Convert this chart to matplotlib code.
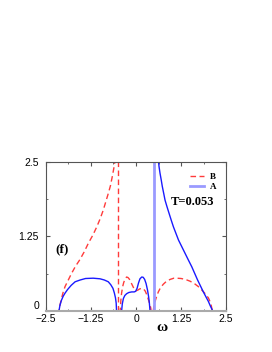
import matplotlib
matplotlib.use("Agg")
import matplotlib.pyplot as plt
from matplotlib.ticker import MultipleLocator

# B (red dashed) pieces
b_left_w = [-2.5, -2.14, -2.11, -2.08, -2.03, -1.97, -1.88, -1.79, -1.68, -1.56, -1.44, -1.32, -1.2, -1.09,
            -1.0, -0.91, -0.84, -0.77, -0.71, -0.66, -0.62, -0.58]
b_left_v = [0, 0, 0.1, 0.18, 0.3, 0.41, 0.52, 0.63, 0.75, 0.86, 0.99, 1.14, 1.27, 1.41,
            1.54, 1.69, 1.83, 1.97, 2.1, 2.25, 2.38, 2.53]
b_pole = -0.5
b_mid_w = [-0.5, -0.44, -0.42, -0.4, -0.37, -0.34, -0.3, -0.26, -0.22, -0.18, -0.14, -0.1, -0.06, -0.03,
           0.0, 0.05, 0.1, 0.16, 0.21, 0.26, 0.3, 0.34, 0.37, 0.39, 0.41, 0.42, 0.48]
b_mid_v = [0, 0, 0.18, 0.3, 0.41, 0.48, 0.54, 0.57, 0.56, 0.53, 0.48, 0.43, 0.38, 0.35,
           0.34, 0.35, 0.37, 0.38, 0.37, 0.33, 0.27, 0.2, 0.14, 0.1, 0.05, 0, 0]
b_right_w = [0.48, 0.5, 0.53, 0.57, 0.62, 0.68, 0.76, 0.85, 0.95, 1.05, 1.13, 1.25, 1.37, 1.5, 1.62, 1.73,
             1.83, 1.92, 2.01, 2.06, 2.09, 2.12, 2.5]
b_right_v = [0, 0.1, 0.16, 0.24, 0.32, 0.39, 0.45, 0.5, 0.53, 0.55, 0.55, 0.545, 0.53, 0.5, 0.46, 0.41,
             0.35, 0.29, 0.22, 0.15, 0.09, 0, 0]

# A (blue solid) pieces
a_left_w = [-2.5, -2.14, -2.11, -2.07, -2.02, -1.97, -1.9, -1.8, -1.69, -1.55, -1.4, -1.19, -1.0, -0.88,
            -0.77, -0.7, -0.64, -0.6, -0.57, -0.55, -0.54, -0.4]
a_left_v = [0, 0, 0.1, 0.18, 0.25, 0.3, 0.36, 0.43, 0.49, 0.52, 0.545, 0.55, 0.54, 0.52,
            0.49, 0.44, 0.38, 0.3, 0.22, 0.13, 0, 0]
a_mid_w = [-0.4, -0.38, -0.35, -0.31, -0.26, -0.2, -0.12, -0.05, -0.01, 0.03, 0.07, 0.11, 0.16, 0.2,
           0.24, 0.28, 0.32, 0.35, 0.37, 0.39, 0.48]
a_mid_v = [0, 0.12, 0.21, 0.26, 0.29, 0.31, 0.32, 0.32, 0.33, 0.38, 0.47, 0.54, 0.57, 0.565,
           0.53, 0.46, 0.35, 0.24, 0.14, 0, 0]
a_pole = 0.49
a_right_w = [0.61, 0.62, 0.64, 0.667, 0.7, 0.73, 0.77, 0.806, 0.86, 0.917, 0.98, 1.04, 1.11, 1.18, 1.27,
             1.36, 1.45, 1.55, 1.63, 1.71, 1.79, 1.87, 1.94, 2.01, 2.06, 2.1, 2.13, 2.5]
a_right_v = [2.6, 2.53, 2.42, 2.31, 2.2, 2.09, 1.97, 1.86, 1.75, 1.64, 1.52, 1.41, 1.3, 1.19, 1.08,
             0.97, 0.86, 0.74, 0.63, 0.52, 0.42, 0.32, 0.24, 0.16, 0.09, 0.04, 0, 0]

red = "#ff3b3b"
blue = "#1a1aff"
lightblue = "#9a9aff"

fig = plt.figure(figsize=(2.72, 3.52), dpi=100)
ax = fig.add_axes([0.169, 0.1165, 0.662, 0.4235])

dash = (0, (4, 2.5))
ax.plot(b_left_w, b_left_v, color=red, lw=1, ls=dash)
ax.plot([b_pole, b_pole], [0, 2.5], color=red, lw=1, ls=dash)
ax.plot(b_mid_w, b_mid_v, color=red, lw=1, ls=dash)
ax.plot(b_right_w, b_right_v, color=red, lw=1, ls=dash)

ax.plot(a_left_w, a_left_v, color=blue, lw=1)
ax.plot(a_mid_w, a_mid_v, color=blue, lw=1)
ax.plot([a_pole, a_pole], [0, 2.5], color=lightblue, lw=2)
ax.plot(a_right_w, a_right_v, color=blue, lw=1)

ax.set_xlim(-2.5, 2.5)
ax.set_ylim(0, 2.5)
ax.set_xticks([-2.5, -1.25, 0, 1.25, 2.5])
ax.set_xticklabels(["\u22122.5", "\u22121.25", "0", "1.25", "2.5"])
ax.set_yticks([0, 1.25, 2.5])
ax.set_yticklabels(["0", "1.25", "2.5"])
ax.xaxis.set_minor_locator(MultipleLocator(0.625))
ax.yaxis.set_minor_locator(MultipleLocator(0.625))
ax.tick_params(which="both", direction="in", top=True, right=True, colors="#555555",
               labelcolor="black", labelsize=7.5)
ax.tick_params(axis="x", pad=2)
ax.tick_params(axis="y", pad=5)
ax.tick_params(which="major", length=3)
ax.tick_params(which="minor", length=1.5)
for lab in ax.get_xticklabels() + ax.get_yticklabels():
    lab.set_family("Liberation Sans")
ax.get_yticklabels()[0].set_verticalalignment("bottom")
for sp in ax.spines.values():
    sp.set_color("#555555")
    sp.set_linewidth(0.8)
ax.spines["bottom"].set_color("#aaaaaa")
ax.spines["bottom"].set_linewidth(1.5)

ax.set_xlabel("\u03c9", family="Liberation Serif", fontweight="bold", fontsize=11)
ax.xaxis.set_label_coords(0.645, -0.065)

ax.text(-2.06, 1.03, "(f)", family="Liberation Serif", fontweight="bold", fontsize=9.5,
        ha="center", va="center")
ax.text(1.58, 1.83, "T=0.053", family="Liberation Serif", fontweight="bold", fontsize=9,
        ha="center", va="center")

hb, = ax.plot([], [], color=red, lw=1, ls=dash)
ha, = ax.plot([], [], color=lightblue, lw=2)
ax.legend([hb, ha], ["B", "A"], loc="upper right", bbox_to_anchor=(0.99, 0.98),
          frameon=False, handlelength=1.6, handletextpad=0.6, labelspacing=0.2,
          prop={"family": "Liberation Serif", "weight": "bold", "size": 6.5})

fig.savefig("out.png", dpi=100)
